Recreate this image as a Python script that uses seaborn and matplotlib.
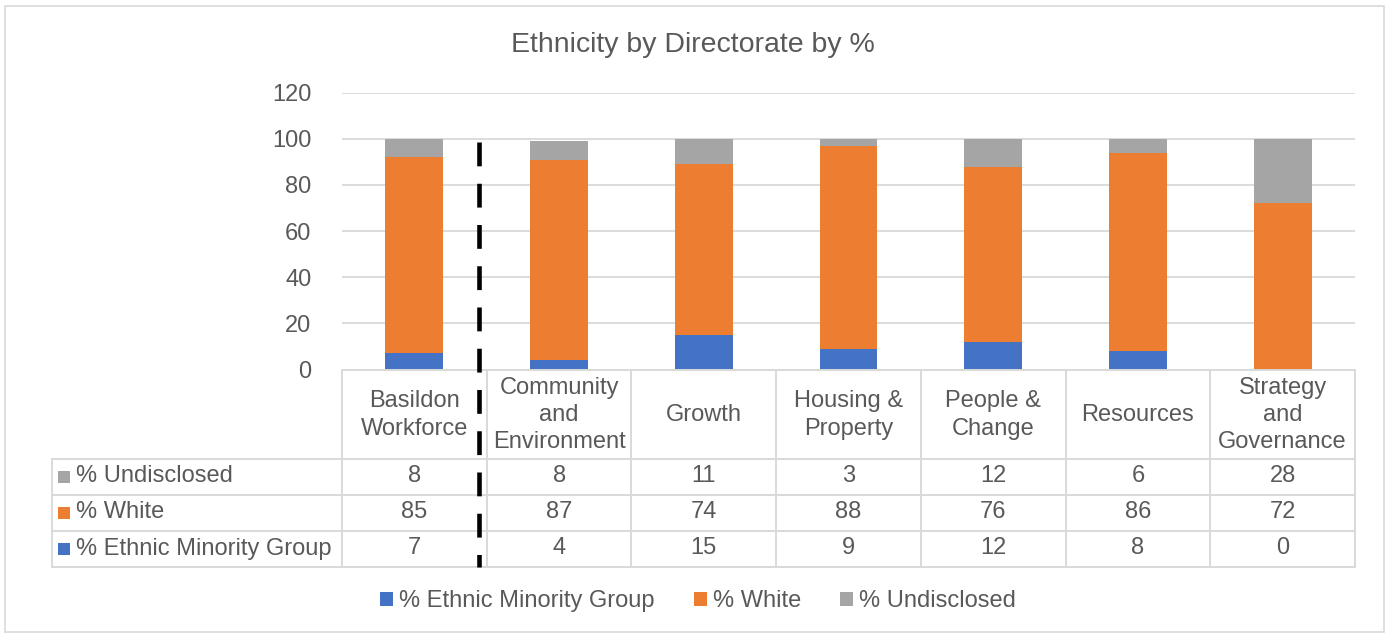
import numpy as np
import pandas as pd
import matplotlib
matplotlib.use("Agg")
import matplotlib.pyplot as plt
import matplotlib.transforms as mtransforms
from matplotlib.patches import Patch, Rectangle
from matplotlib.lines import Line2D
import seaborn as sns

# ---- data -------------------------------------------------------------
directorates = ["Basildon Workforce", "Community and Environment", "Growth",
                "Housing & Property", "People & Change", "Resources",
                "Strategy and Governance"]
header_labels = ["Basildon\nWorkforce", "Community\nand\nEnvironment", "Growth",
                 "Housing &\nProperty", "People &\nChange", "Resources",
                 "Strategy\nand\nGovernance"]
pct_minority = [7, 4, 15, 9, 12, 8, 0]
pct_white = [85, 87, 74, 88, 76, 86, 72]
pct_undisclosed = [8, 8, 11, 3, 12, 6, 28]
y_ticks = [0, 20, 40, 60, 80, 100, 120]

series_names = ["% Ethnic Minority Group", "% White", "% Undisclosed"]
colors = ["#4472C4", "#ED7D31", "#A5A5A5"]
TEXT = "#595959"
GRID = "#D9D9D9"

# ---- styling ----------------------------------------------------------
sns.set_theme(style="white")
plt.rcParams["font.family"] = ["Liberation Sans", "DejaVu Sans"]
FS = 17

W, H = 1386, 635
fig = plt.figure(figsize=(W / 100, H / 100), dpi=100)
ax = fig.add_axes([342 / W, 1 - 369.5 / H, 1013 / W, 276.8 / H])

df = pd.DataFrame({
    "directorate": directorates,
    "minority": pct_minority,
    "white": pct_white,
    "undisclosed": pct_undisclosed,
})
df["top_white"] = df["minority"] + df["white"]
df["top_all"] = df["top_white"] + df["undisclosed"]

# stacked bars: draw cumulative totals from the top layer downwards
for col, c in [("top_all", colors[2]), ("top_white", colors[1]), ("minority", colors[0])]:
    sns.barplot(data=df, x="directorate", y=col, order=directorates, color=c,
                saturation=1, width=0.4, linewidth=0, ax=ax, zorder=2)

ax.set_xlim(-0.5, len(directorates) - 0.5)
ax.set_ylim(0, 120)
ax.set_yticks(y_ticks)
ax.set_xticks([])
ax.set_xlabel("")
ax.set_ylabel("")
ax.yaxis.grid(True, color=GRID, linewidth=1.3, zorder=0)
ax.set_axisbelow(True)
for s in ["top", "right", "left", "bottom"]:
    ax.spines[s].set_visible(False)
ax.tick_params(axis="y", length=0, pad=22, labelsize=FS, labelcolor=TEXT)

# ---- data table below the plot ----------------------------------------
pix = mtransforms.Affine2D().scale(1 / W, -1 / H).translate(0, 1) + fig.transFigure
xd = mtransforms.blended_transform_factory(ax.transData, pix)

n = len(directorates)
row_edges = [369.5, 458.5, 494.5, 530.5, 566.5]
table_left = 51.5
lw_tab = 1.4

def hline(y, x0_pix=None):
    if x0_pix is not None:
        fig.add_artist(Line2D([x0_pix, 342], [y, y], transform=pix, color=GRID,
                              lw=lw_tab, clip_on=False))
    fig.add_artist(Line2D([-0.5, n - 0.5], [y, y], transform=xd, color=GRID,
                          lw=lw_tab, clip_on=False))

hline(row_edges[0])
for y in row_edges[1:]:
    hline(y, table_left)
for i in range(n + 1):
    fig.add_artist(Line2D([i - 0.5, i - 0.5], [row_edges[0], row_edges[-1]], transform=xd,
                          color=GRID, lw=lw_tab, clip_on=False))
fig.add_artist(Line2D([table_left, table_left], [row_edges[1], row_edges[-1]], transform=pix,
                      color=GRID, lw=lw_tab, clip_on=False))

# column headers
hdr_y = (row_edges[0] + row_edges[1]) / 2 + 1
for i, lab in enumerate(header_labels):
    fig.text(i, hdr_y, lab, transform=xd, ha="center", va="center", fontsize=FS,
             color=TEXT, linespacing=1.3)

# rows: undisclosed, white, minority
table_rows = [(series_names[2], colors[2], pct_undisclosed),
              (series_names[1], colors[1], pct_white),
              (series_names[0], colors[0], pct_minority)]
for r, (name, c, vals) in enumerate(table_rows):
    yc = (row_edges[r + 1] + row_edges[r + 2]) / 2
    fig.add_artist(Rectangle((58, yc - 6), 12, 12, transform=pix, facecolor=c,
                             edgecolor="none"))
    fig.text(76, yc, name, transform=pix, ha="left", va="center", fontsize=FS, color=TEXT)
    for i, v in enumerate(vals):
        fig.text(i, yc, f"{v}", transform=xd, ha="center", va="center", fontsize=FS,
                 color=TEXT)

# dashed divider after the council-wide column
fig.add_artist(Line2D([0.45, 0.45], [142, 567], transform=xd, color="black", lw=3.3,
                      dashes=(5.2, 3.8), clip_on=False))

# ---- title, legend, frame ---------------------------------------------
fig.text(693 / W, 1 - 45 / H, "Ethnicity by Directorate by %", ha="center", va="center",
         fontsize=20.5, color=TEXT)

handles = [Patch(facecolor=c, edgecolor="none") for c in colors]
fig.legend(handles, series_names, loc="center", bbox_to_anchor=(698 / W, 1 - 601 / H),
           ncol=3, frameon=False, fontsize=FS, labelcolor=TEXT, handlelength=0.55,
           handleheight=0.55, handletextpad=0.25, columnspacing=1.65)

fig.add_artist(Rectangle((5 / W, 1 - 632 / H), 1379 / W, 626 / H, transform=fig.transFigure,
                         facecolor="none", edgecolor=GRID, lw=1.2))

fig.savefig("out.png", dpi=100, facecolor="white")
